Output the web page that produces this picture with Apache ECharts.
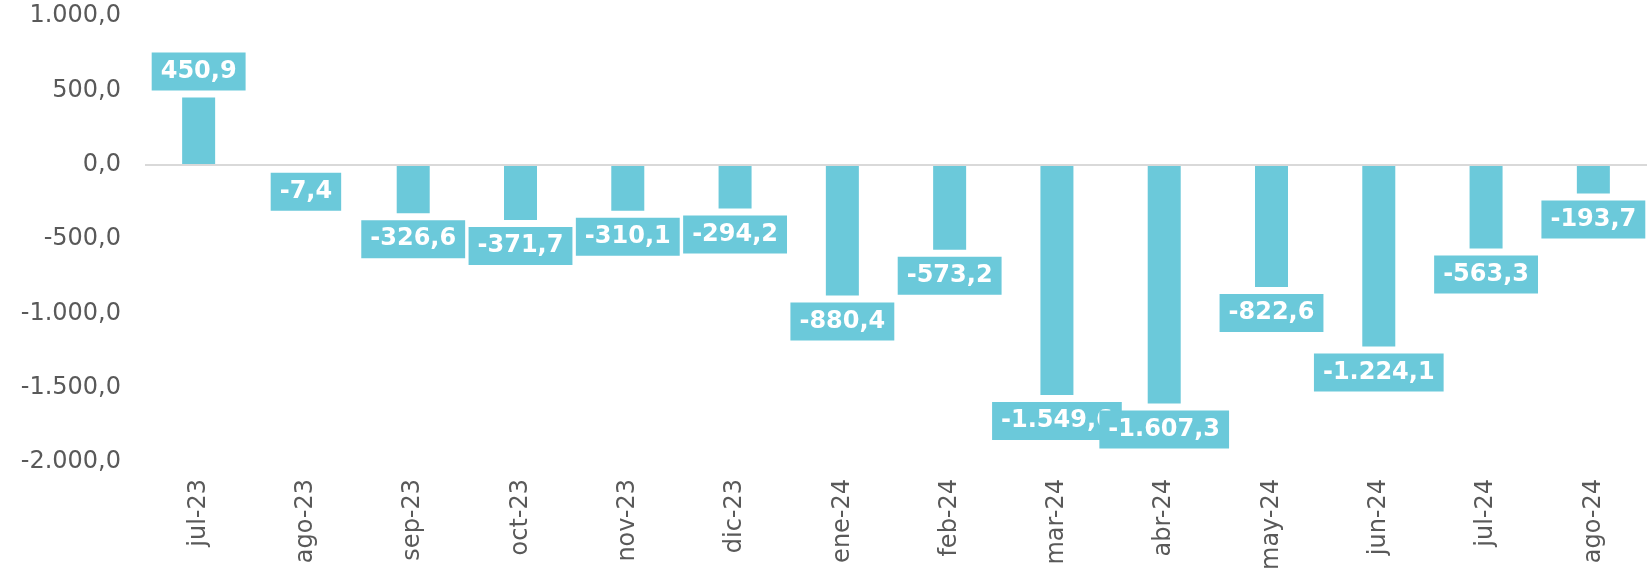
<!DOCTYPE html>
<html>
<head>
<meta charset="utf-8">
<script src="https://cdn.jsdelivr.net/npm/echarts@6/dist/echarts.min.js"></script>
<style>
  html, body { margin: 0; padding: 0; background: #fff; }
  #chart { width: 1650px; height: 573px; }
</style>
</head>
<body>
<div id="chart"></div>
<script>
const months = ['jul-23', 'ago-23', 'sep-23', 'oct-23', 'nov-23', 'dic-23', 'ene-24',
    'feb-24', 'mar-24', 'abr-24', 'may-24', 'jun-24', 'jul-24', 'ago-24'];
const values = [450.9, -7.4, -326.6, -371.7, -310.1, -294.2, -880.4,
    -573.2, -1549.6, -1607.3, -822.6, -1224.1, -563.3, -193.7];

const barColor = '#6BC9DA';

// formato español: 1.234,5
function fmt(v) {
    const neg = v < 0;
    const parts = Math.abs(v).toFixed(1).split('.');
    const ent = parts[0].replace(/\B(?=(\d{3})+(?!\d))/g, '.');
    return (neg ? '-' : '') + ent + ',' + parts[1];
}

const chart = echarts.init(document.getElementById('chart'));
chart.setOption({
    animation: false,
    grid: {left: 145, right: 3, top: 16, bottom: 104},
    xAxis: {
        type: 'category',
        data: months,
        axisLine: {show: false, onZero: false},
        axisTick: {show: false},
        axisLabel: {
            rotate: 90, margin: 17, color: '#595959', fontSize: 24,
            fontFamily: 'DejaVu Sans', interval: 0
        }
    },
    yAxis: {
        type: 'value',
        min: -2000, max: 1000, interval: 500,
        axisLine: {show: false},
        axisTick: {show: false},
        splitLine: {show: false},
        axisLabel: {
            margin: 24, color: '#595959', fontSize: 24, fontFamily: 'DejaVu Sans',
            formatter: v => fmt(v)
        }
    },
    series: [{
        type: 'bar',
        barWidth: 33,
        itemStyle: {color: barColor},
        // negativas: etiqueta debajo de la barra
        data: values.map(v => ({
            value: v,
            label: {position: v < 0 ? 'bottom' : 'top'}
        })),
        label: {
            show: true,
            distance: 7,
            formatter: p => fmt(p.value),
            color: '#fff',
            fontWeight: 'bold',
            fontSize: 24,
            lineHeight: 24,
            fontFamily: 'DejaVu Sans',
            backgroundColor: barColor,
            padding: [7, 9]
        },
        markLine: {
            silent: true,
            symbol: 'none',
            label: {show: false},
            lineStyle: {color: '#d9d9d9', width: 2, type: 'solid'},
            data: [{yAxis: 0}]
        }
    }]
});
</script>
</body>
</html>
